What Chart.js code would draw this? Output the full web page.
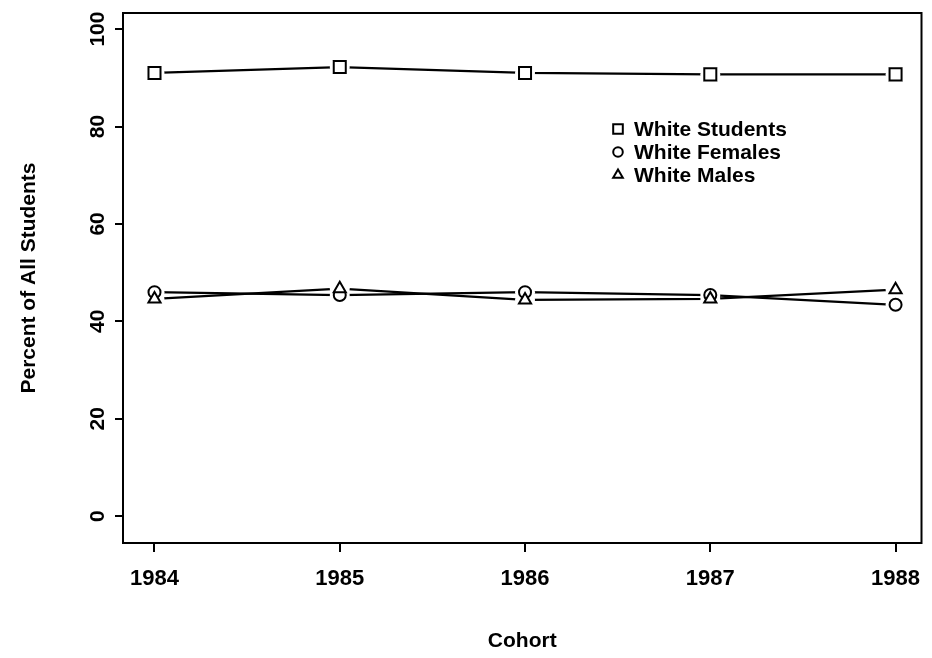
<!DOCTYPE html>
<html>
<head>
<meta charset="utf-8">
<script src="https://cdn.jsdelivr.net/npm/chart.js@4.4.1/dist/chart.umd.min.js"></script>
<style>
  body { margin: 0; background: #fff; }
  #wrap { width: 932px; height: 658px; position: relative; }
</style>
</head>
<body>
<div id="wrap"><canvas id="myChart"></canvas></div>
<script>
"use strict"

// cohorts on the x axis
let cohorts = [1984, 1985, 1986, 1987, 1988];

// percent of all students
let whiteStudents = [91.0, 92.2, 91.0, 90.7, 90.7];
let whiteFemales = [46.0, 45.4, 46.0, 45.4, 43.4];
let whiteMales = [44.6, 46.7, 44.4, 44.6, 46.5];

let seriesNames = ["White Students", "White Females", "White Males"];
let yTicks = [0, 20, 40, 60, 80, 100];

const FONT = "'Liberation Sans', Arial, sans-serif";

// turn a values array into {x, y} points for the linear x scale
function toPoints(values) {
  let pts = [];
  for (let i = 0; i < cohorts.length; i++) {
    pts.push({ x: cohorts[i], y: values[i] });
  }
  return pts;
}

function series(name, values, style, radius) {
  return {
    label: name,
    data: toPoints(values),
    borderColor: "#000",
    borderWidth: 2.2,
    pointStyle: style,
    pointRadius: radius,
    pointBorderWidth: 2,
    pointBorderColor: "#000",
    pointBackgroundColor: "#fff",
    fill: false,
    tension: 0
  };
}

// R style "b" plot: the lines stop short of the markers, plus box, y labels and key
const boxAndKey = {
  id: "boxAndKey",
  afterDatasetsDraw(chart) {
    const ctx = chart.ctx;
    ctx.save();
    // white gap round every marker first
    ctx.fillStyle = "#fff";
    chart.data.datasets.forEach((ds, i) => {
      chart.getDatasetMeta(i).data.forEach((pt) => {
        ctx.beginPath();
        ctx.arc(pt.x, pt.y, 10, 0, Math.PI * 2);
        ctx.fill();
      });
    });
    // then the markers again on top
    chart.data.datasets.forEach((ds, i) => {
      chart.getDatasetMeta(i).data.forEach((pt) => pt.draw(ctx, chart.chartArea));
    });
    ctx.restore();
  },
  afterDraw(chart) {
    const ctx = chart.ctx;
    const a = chart.chartArea;
    ctx.save();
    ctx.strokeStyle = "#000";
    ctx.lineWidth = 2;
    ctx.strokeRect(a.left, a.top, a.right - a.left, a.bottom - a.top);

    // y tick labels, turned on their side like the original
    const ys = chart.scales.y;
    ctx.fillStyle = "#000";
    ctx.font = "bold 21px " + FONT;
    ctx.textAlign = "center";
    ctx.textBaseline = "middle";
    for (let i = 0; i < ys.ticks.length; i++) {
      let py = ys.getPixelForValue(ys.ticks[i].value);
      ctx.save();
      ctx.translate(98, py);
      ctx.rotate(-Math.PI / 2);
      ctx.fillText(String(ys.ticks[i].value), 0, 0);
      ctx.restore();
    }

    // key
    let kx = 618, ky = 129, step = 23;
    ctx.font = "bold 21px " + FONT;
    ctx.textAlign = "left";
    for (let i = 0; i < chart.data.datasets.length; i++) {
      let ds = chart.data.datasets[i];
      let cy = ky + i * step;
      ctx.lineWidth = 2;
      ctx.strokeStyle = "#000";
      ctx.fillStyle = "#fff";
      Chart.helpers.drawPoint(ctx, { pointStyle: ds.pointStyle, radius: ds.pointRadius * 0.8, borderWidth: 2 }, kx, cy);
      ctx.fillStyle = "#000";
      ctx.fillText(ds.label, kx + 16, cy + 1);
    }
    ctx.restore();
  }
};

const ctx = document.getElementById("myChart").getContext("2d");
const myChart = new Chart(ctx, {
  type: "line",
  data: {
    datasets: [
      series(seriesNames[0], whiteStudents, "rect", 8.5),
      series(seriesNames[1], whiteFemales, "circle", 6),
      series(seriesNames[2], whiteMales, "triangle", 7)
    ]
  },
  options: {
    responsive: true,
    maintainAspectRatio: false,
    animation: false,
    layout: { padding: { top: 13, right: 7, bottom: 4, left: 0 } },
    plugins: {
      legend: { display: false },
      tooltip: { enabled: false }
    },
    scales: {
      x: {
        type: "linear",
        min: 1983.83,
        max: 1988.14,
        afterBuildTicks: (s) => { s.ticks = cohorts.map(v => ({ value: v })); },
        afterFit: (s) => { s.height = 111; s.paddingLeft = 0; s.paddingRight = 0; },
        border: { display: false },
        grid: { drawOnChartArea: false, drawTicks: true, tickLength: 9, color: "#000", lineWidth: 2 },
        ticks: {
          color: "#000",
          padding: 14,
          maxRotation: 0,
          font: { family: FONT, size: 22, weight: "bold" },
          callback: (v) => String(v)
        },
        title: {
          display: true,
          text: "Cohort",
          color: "#000",
          font: { family: FONT, size: 21, weight: "bold" },
          padding: { top: 0, bottom: 0 }
        }
      },
      y: {
        min: -5.5,
        max: 103.3,
        afterBuildTicks: (s) => { s.ticks = yTicks.map(v => ({ value: v })); },
        afterFit: (s) => { s.width = 123; s.paddingTop = 0; s.paddingBottom = 0; },
        border: { display: false },
        grid: { drawOnChartArea: false, drawTicks: true, tickLength: 8, color: "#000", lineWidth: 2 },
        ticks: { display: false },
        title: {
          display: true,
          text: "Percent of All Students",
          color: "#000",
          font: { family: FONT, size: 21, weight: "bold" },
          padding: { top: 17, bottom: 0 }
        }
      }
    }
  },
  plugins: [boxAndKey]
});
</script>
</body>
</html>
